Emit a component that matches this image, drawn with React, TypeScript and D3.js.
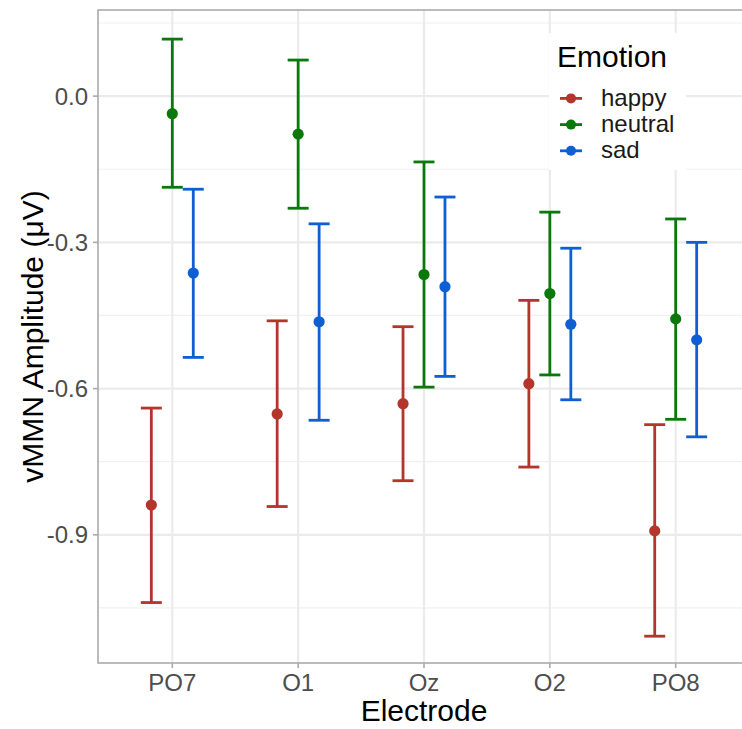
import React from "react";
import * as d3 from "d3";

const electrodes = ["PO7", "O1", "Oz", "O2", "PO8"];
const emotions = ["happy", "neutral", "sad"];
const colors = ["#B3352B", "#0A780A", "#0E5FD3"];

// mean, lower, upper per emotion, in electrode order
const happyMean = [-0.839, -0.652, -0.631, -0.590, -0.892];
const happyLow = [-1.039, -0.842, -0.789, -0.761, -1.108];
const happyHigh = [-0.640, -0.461, -0.473, -0.419, -0.674];

const neutralMean = [-0.036, -0.078, -0.366, -0.405, -0.457];
const neutralLow = [-0.187, -0.230, -0.597, -0.572, -0.663];
const neutralHigh = [0.117, 0.074, -0.135, -0.238, -0.252];

const sadMean = [-0.363, -0.463, -0.391, -0.468, -0.500];
const sadLow = [-0.536, -0.665, -0.575, -0.623, -0.699];
const sadHigh = [-0.191, -0.262, -0.207, -0.312, -0.300];

const yTicks = [0, -0.3, -0.6, -0.9];
const yTickLabels = ["0.0", "-0.3", "-0.6", "-0.9"];
const yMinor = [0.15, -0.15, -0.45, -0.75, -1.05];

const series = [
  { mean: happyMean, low: happyLow, high: happyHigh },
  { mean: neutralMean, low: neutralLow, high: neutralHigh },
  { mean: sadMean, low: sadLow, high: sadHigh },
];

const W = 742;
const H = 729;
const panel = { left: 98, top: 10, right: 750, bottom: 663 };
const font = "'Liberation Sans', Arial, Helvetica, sans-serif";

export default function App() {
  const x = d3.scalePoint<string>().domain(electrodes).range([172.3, 675.7]);
  const step = x.step();
  const dodge = d3
    .scalePoint<string>()
    .domain(emotions)
    .range([-step / 6, step / 6]);
  const y = d3.scaleLinear().domain([-1.163, 0.1767]).range([panel.bottom, panel.top]);
  const capHalf = 10.5;

  return (
    <svg
      width={W}
      height={H}
      style={{ position: "absolute", left: 0, top: 0, background: "#fff" }}
      fontFamily={font}
    >
      <rect x={0} y={0} width={W} height={H} fill="#fff" />
      {/* grid */}
      {yMinor.map((v) => (
        <line key={"mi" + v} x1={panel.left} x2={panel.right} y1={y(v)} y2={y(v)} stroke="#F0F0F0" strokeWidth={1.2} />
      ))}
      {yTicks.map((v) => (
        <line key={"ma" + v} x1={panel.left} x2={panel.right} y1={y(v)} y2={y(v)} stroke="#EBEBEB" strokeWidth={2.2} />
      ))}
      {electrodes.map((e) => (
        <line key={"vx" + e} x1={x(e)} x2={x(e)} y1={panel.top} y2={panel.bottom} stroke="#EBEBEB" strokeWidth={2.2} />
      ))}
      {/* error bars & points */}
      {series.map((s, si) =>
        electrodes.map((e, i) => {
          const cx = (x(e) as number) + (dodge(emotions[si]) as number);
          return (
            <g key={si + "-" + e}>
              <line x1={cx} x2={cx} y1={y(s.low[i])} y2={y(s.high[i])} stroke={colors[si]} strokeWidth={2.8} />
              <line x1={cx - capHalf} x2={cx + capHalf} y1={y(s.low[i])} y2={y(s.low[i])} stroke={colors[si]} strokeWidth={2.8} />
              <line x1={cx - capHalf} x2={cx + capHalf} y1={y(s.high[i])} y2={y(s.high[i])} stroke={colors[si]} strokeWidth={2.8} />
              <circle cx={cx} cy={y(s.mean[i])} r={5.6} fill={colors[si]} />
            </g>
          );
        })
      )}
      {/* panel border */}
      <rect
        x={panel.left}
        y={panel.top}
        width={panel.right - panel.left}
        height={panel.bottom - panel.top}
        fill="none"
        stroke="#ABABAB"
        strokeWidth={1.6}
      />
      {/* y axis ticks */}
      {yTicks.map((v, i) => (
        <g key={"yt" + v}>
          <line x1={panel.left - 5} x2={panel.left} y1={y(v)} y2={y(v)} stroke="#ABABAB" strokeWidth={1.6} />
          <text x={panel.left - 10} y={y(v)} dy="0.36em" textAnchor="end" fontSize={24} fill="#4D4D4D">
            {yTickLabels[i]}
          </text>
        </g>
      ))}
      {/* x axis ticks */}
      {electrodes.map((e) => (
        <g key={"xt" + e}>
          <line x1={x(e)} x2={x(e)} y1={panel.bottom} y2={panel.bottom + 5} stroke="#ABABAB" strokeWidth={1.6} />
          <text x={x(e)} y={690.7} textAnchor="middle" fontSize={24} fill="#4D4D4D">
            {e}
          </text>
        </g>
      ))}
      {/* axis titles */}
      <text x={(x("Oz") as number)} y={721} textAnchor="middle" fontSize={30} fill="#000">
        Electrode
      </text>
      <text
        transform={`translate(43, ${(panel.top + panel.bottom) / 2}) rotate(-90)`}
        textAnchor="middle"
        fontSize={30}
        fill="#000"
      >
        vMMN Amplitude (μV)
      </text>
      {/* legend */}
      <rect x={549} y={33} width={137} height={137} fill="#fff" />
      <text x={557} y={66.7} fontSize={30} fill="#000">
        Emotion
      </text>
      {emotions.map((em, i) => {
        const base = 106 + i * 26.2;
        const cy = base - 7.6;
        return (
          <g key={"lg" + em}>
            <line x1={560} x2={582} y1={cy} y2={cy} stroke={colors[i]} strokeWidth={2.8} />
            <circle cx={571} cy={cy} r={5} fill={colors[i]} />
            <text x={601} y={base} fontSize={24} fill="#1A1A1A">
              {em}
            </text>
          </g>
        );
      })}
    </svg>
  );
}
